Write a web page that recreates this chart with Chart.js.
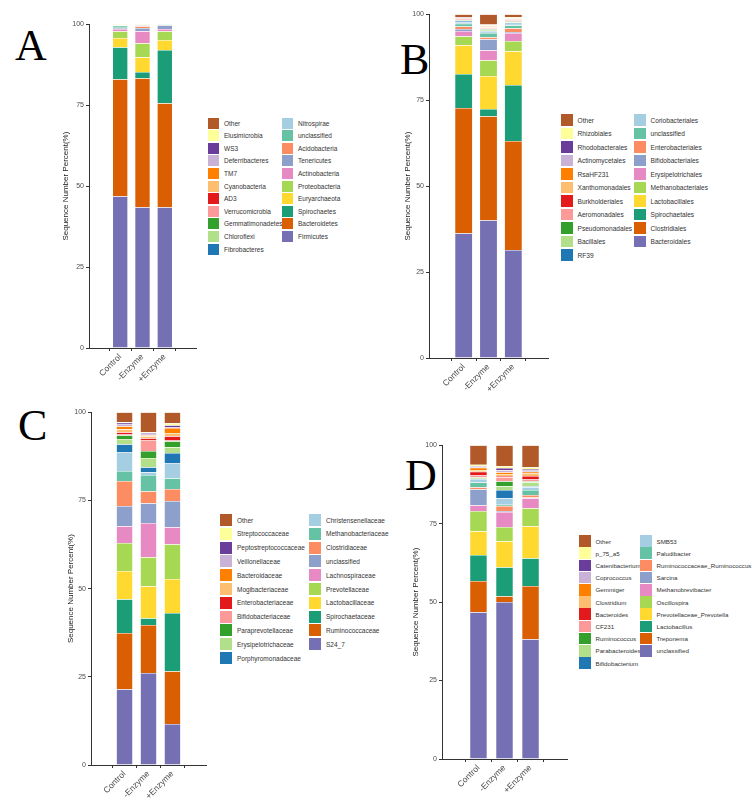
<!DOCTYPE html>
<html lang="en">
<head>
    <meta charset="UTF-8">
    <title>Sequence Number Percent</title>
    <style>
        body {
            margin: 0;
            width: 752px;
            height: 804px;
            background: #fff;
            position: relative;
            overflow: hidden;
            font-family: "Liberation Sans", Arial, sans-serif;
        }
        canvas, .letter, .key {
            position: absolute;
        }
        .letter {
            font-family: "Liberation Serif", "Times New Roman", serif;
            font-size: 44px;
            line-height: 1;
            color: #000;
        }
        .key {
            display: flex;
            align-items: center;
            color: #333;
            white-space: nowrap;
        }
        .key span {
            display: inline-block;
            margin-right: 5px;
        }
    </style>
</head>
<body>
    <div class="letter" style="left:15px;top:24px">A</div>
    <div class="letter" style="left:400px;top:38px">B</div>
    <div class="letter" style="left:18px;top:404px">C</div>
    <div class="letter" style="left:405px;top:454px">D</div>

    <script src="https://cdn.jsdelivr.net/npm/chart.js"></script>
    <script>
        // groups and axis
        const groups = ['Control', '-Enzyme', '+Enzyme'];
        const yTicks = [0, 25, 50, 75, 100];

        // colours in legend order (Other first)
        const palette = ['#B15928', '#FFFF99', '#6A3D9A', '#CAB2D6', '#FF7F00', '#FDBF6F', '#E31A1C',
            '#FB9A99', '#33A02C', '#B2DF8A', '#1F78B4', '#A6CEE3', '#66C2A5', '#FC8D62', '#8DA0CB',
            '#E78AC3', '#A6D854', '#FFD92F', '#1B9E77', '#D95F02', '#7570B3'];

        // A - phylum
        const taxaA = ['Other', 'Elusimicrobia', 'WS3', 'Deferribacteres', 'TM7', 'Cyanobacteria', 'AD3',
            'Verrucomicrobia', 'Gemmatimonadetes', 'Chloroflexi', 'Fibrobacteres', 'Nitrospirae', 'unclassified',
            'Acidobacteria', 'Tenericutes', 'Actinobacteria', 'Proteobacteria', 'Euryarchaeota', 'Spirochaetes',
            'Bacteroidetes', 'Firmicutes'];
        const aControl = [0.05, 0.02, 0.01, 0.02, 0.02, 0.1, 0.01, 0.05, 0.02, 0.05, 0.05, 0.1, 0.6, 0.1, 0.3, 0.7, 2.1, 2.8, 9.9, 36.1, 46.9];
        const aMinus = [0.02, 0.01, 0.01, 0.02, 0.02, 0.15, 0.01, 0.05, 0.01, 0.03, 0.02, 0.05, 0.2, 0.6, 1.0, 3.7, 4.3, 4.6, 1.9, 39.8, 43.5];
        const aPlus = [0.02, 0, 0, 0, 0, 0.02, 0, 0.01, 0.01, 0.01, 0.01, 0.02, 0.15, 0.05, 1.2, 0.7, 2.7, 3.1, 16.4, 32.1, 43.5];

        // B - order
        const taxaB = ['Other', 'Rhizobiales', 'Rhodobacterales', 'Actinomycetales', 'RsaHF231', 'Xanthomonadales',
            'Burkholderiales', 'Aeromonadales', 'Pseudomonadales', 'Bacillales', 'RF39', 'Coriobacteriales',
            'unclassified', 'Enterobacteriales', 'Bifidobacteriales', 'Erysipelotrichales', 'Methanobacteriales',
            'Lactobacillales', 'Spirochaetales', 'Clostridiales', 'Bacteroidales'];
        const bControl = [0.8, 0.1, 0.1, 0.1, 0.1, 0.1, 0.1, 0.3, 0.1, 0.2, 0.3, 0.5, 0.8, 0.7, 0.6, 1.5, 2.6, 8.4, 9.9, 36.4, 36.3];
        const bMinus = [3.0, 0.3, 0.2, 0.1, 0.1, 0.2, 0.2, 0.3, 0.2, 0.3, 0.2, 0.4, 1.2, 0.6, 3.2, 2.9, 4.6, 9.6, 2.1, 30.2, 40.1];
        const bPlus = [0.9, 0.2, 0.1, 0.1, 0.2, 0.2, 0.1, 0.3, 0.2, 0.2, 0.3, 0.4, 0.9, 1.1, 0.3, 2.3, 3.0, 9.8, 16.3, 31.7, 31.4];

        // C - family
        const taxaC = ['Other', 'Streptococcaceae', 'Peptostreptococcaceae', 'Veillonellaceae', 'Bacteroidaceae',
            'Mogibacteriaceae', 'Enterobacteriaceae', 'Bifidobacteriaceae', 'Paraprevotellaceae', 'Erysipelotrichaceae',
            'Porphyromonadaceae', 'Christensenellaceae', 'Methanobacteriaceae', 'Clostridiaceae', 'unclassified',
            'Lachnospiraceae', 'Prevotellaceae', 'Lactobacillaceae', 'Spirochaetaceae', 'Ruminococcaceae', 'S24_7'];
        const cControl = [2.8, 0.2, 0.5, 0.5, 0.8, 0.9, 0.6, 0.2, 1.1, 1.5, 2.2, 5.4, 2.8, 7.1, 5.7, 4.8, 7.9, 8.0, 9.6, 15.9, 21.5];
        const cMinus = [5.7, 0.1, 0.3, 0.4, 0.3, 0.6, 0.5, 3.1, 2.0, 2.6, 1.4, 0.8, 4.6, 3.4, 5.6, 9.7, 8.2, 9.1, 1.9, 13.6, 26.1];
        const cPlus = [3.1, 0.6, 0.5, 0.3, 1.4, 0.9, 1.2, 0.2, 1.7, 1.7, 2.8, 4.3, 3.1, 3.4, 7.4, 4.8, 9.9, 9.6, 16.5, 15.0, 11.6];

        // D - genus
        const taxaD = ['Other', 'p_75_a5', 'Catenibacterium', 'Coprococcus', 'Gemmiger', 'Clostridium', 'Bacteroides',
            'CF231', 'Ruminococcus', 'Parabacteroides', 'Bifidobacterium', 'SMB53', 'Paludibacter',
            'Ruminococcaceae_Ruminococcus', 'Sarcina', 'Methanobrevibacter', 'Oscillospira',
            'Prevotellaceae_Prevotella', 'Lactobacillus', 'Treponema', 'unclassified'];
        const dControl = [6.2, 0.4, 0.3, 0.3, 0.7, 0.6, 1.0, 0.6, 0.1, 0.5, 0.1, 1.0, 1.6, 0.6, 5.1, 1.9, 6.4, 7.6, 8.3, 9.9, 46.8];
        const dMinus = [6.7, 0.6, 0.7, 0.6, 0.6, 0.6, 0.4, 1.3, 1.6, 1.2, 2.6, 2.1, 0.4, 1.6, 0.3, 4.8, 4.5, 8.3, 9.2, 1.9, 50.0];
        const dPlus = [7.0, 0.6, 0.5, 0.4, 0.5, 0.8, 1.1, 0.6, 0.3, 1.3, 0.3, 0.9, 1.6, 0.8, 0.2, 3.2, 5.7, 10.2, 8.9, 16.9, 38.2];

        // layout of each panel (pixels)
        const panels = [
            { taxa: taxaA, vals: [aControl, aMinus, aPlus], left: 61, x0: 89, x1: 196, top: 24, bot: 348, bar: 0.69,
              key: { c1: 208, c2: 282, y0: 123, dy: 12.6, sw: 11, fs: 6.5 } },
            { taxa: taxaB, vals: [bControl, bMinus, bPlus], left: 403, x0: 429, x1: 548, top: 14, bot: 358, bar: 0.72,
              key: { c1: 561, c2: 634, y0: 120, dy: 13.5, sw: 11.5, fs: 6.6 } },
            { taxa: taxaC, vals: [cControl, cMinus, cPlus], left: 66, x0: 91, x1: 206, top: 412, bot: 765, bar: 0.69,
              key: { c1: 220, c2: 309, y0: 520, dy: 13.8, sw: 12, fs: 6.5 } },
            { taxa: taxaD, vals: [dControl, dMinus, dPlus], left: 411, x0: 442, x1: 567, top: 445, bot: 759, bar: 0.67,
              key: { c1: 579, c2: 640, y0: 541, dy: 12.2, sw: 11.5, fs: 6.2 } }
        ];

        panels.forEach(p => {
            const cv = document.createElement('canvas');
            const cTop = p.top - 6;
            const w = p.x1 + 5 - p.left;
            const h = p.bot - cTop + 40;
            cv.width = w;
            cv.height = h;
            cv.style.left = p.left + 'px';
            cv.style.top = cTop + 'px';
            cv.style.width = w + 'px';
            cv.style.height = h + 'px';
            document.body.appendChild(cv);

            // bottom of the stack first
            const datasets = p.taxa.map((name, i) => ({
                label: name,
                data: groups.map((g, j) => ({ x: j + 1, y: p.vals[j][i] })),
                backgroundColor: palette[i],
                borderColor: 'rgba(255,255,255,0.35)',
                borderWidth: 0.5,
                stack: 's'
            })).reverse();

            new Chart(cv, {
                type: 'bar',
                data: { datasets: datasets },
                options: {
                    responsive: false,
                    animation: false,
                    layout: { padding: { top: 6, right: 5, left: 0, bottom: 0 } },
                    plugins: { legend: { display: false }, tooltip: { enabled: false } },
                    datasets: { bar: { barPercentage: p.bar, categoryPercentage: 1 } },
                    scales: {
                        x: {
                            type: 'linear',
                            min: 0.4,
                            max: 3.6,
                            afterBuildTicks: s => { s.ticks = groups.map((g, j) => ({ value: j + 1 })); },
                            afterFit: s => { s.height = 40; },
                            ticks: {
                                autoSkip: false, maxRotation: 45, minRotation: 45, padding: 1,
                                callback: v => groups[v - 1],
                                font: { size: 8.5, family: 'Liberation Sans' }, color: '#4d4d4d'
                            },
                            grid: { drawOnChartArea: false, tickLength: 3, color: '#333' },
                            border: { color: '#333', width: 1 }
                        },
                        y: {
                            stacked: true,
                            min: 0,
                            max: 100,
                            afterBuildTicks: s => { s.ticks = yTicks.map(v => ({ value: v })); },
                            afterFit: s => { s.width = p.x0 - p.left; },
                            ticks: { padding: 2, font: { size: 7, family: 'Liberation Sans' }, color: '#4d4d4d' },
                            grid: { drawOnChartArea: false, tickLength: 3, color: '#333' },
                            border: { color: '#333', width: 1 },
                            title: {
                                display: true, text: 'Sequence Number Percent(%)',
                                font: { size: 8, family: 'Liberation Sans' }, color: '#222',
                                padding: { top: 0, bottom: 0 }
                            }
                        }
                    }
                }
            });

            // legend: two columns, 11 rows in the first
            const k = p.key;
            p.taxa.forEach((name, i) => {
                const col = i < 11 ? 0 : 1;
                const row = i < 11 ? i : i - 11;
                const item = document.createElement('div');
                item.className = 'key';
                item.style.left = (col ? k.c2 : k.c1) + 'px';
                item.style.top = (k.y0 + row * k.dy - k.sw / 2) + 'px';
                item.style.height = k.sw + 'px';
                item.style.fontSize = k.fs + 'px';
                item.innerHTML = '<span style="width:' + k.sw + 'px;height:' + k.sw + 'px;background:' +
                    palette[i] + '"></span>' + name;
                document.body.appendChild(item);
            });
        });
    </script>
</body>
</html>
